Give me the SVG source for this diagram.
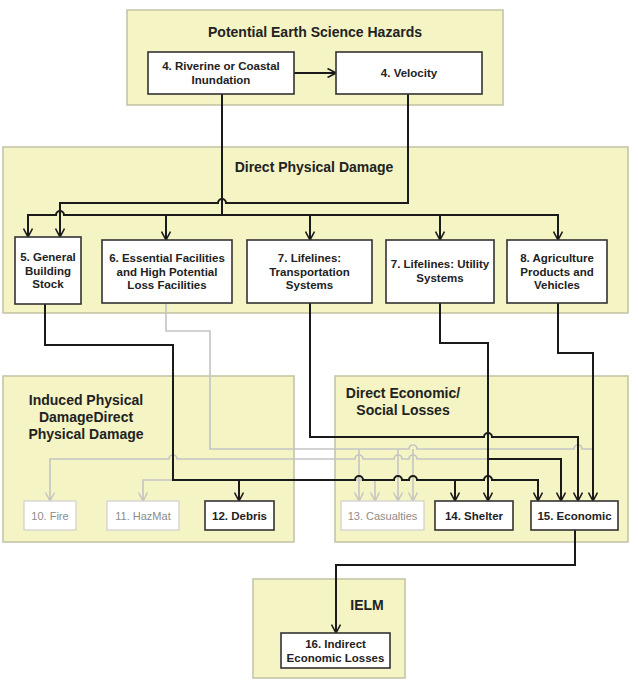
<svg xmlns="http://www.w3.org/2000/svg" width="638" height="693" viewBox="0 0 638 693">
<style>
.panel{fill:#f4f4c4;stroke:#c2c2a2;stroke-width:1.5}
.box{fill:#fff;stroke:#333;stroke-width:1.6}
.gbox{fill:#fff;stroke:#cfcfcf;stroke-width:1.2}
.t{font-family:"Liberation Sans",Arial,sans-serif;font-size:11.5px;font-weight:bold;fill:#222;text-anchor:middle}
.g{font-family:"Liberation Sans",Arial,sans-serif;font-size:11px;fill:#8c8c8c;text-anchor:middle}
.h{font-family:"Liberation Sans",Arial,sans-serif;font-size:14px;font-weight:bold;fill:#222;text-anchor:middle}
.k{fill:none;stroke:#1a1a1a;stroke-width:2}
.gl{fill:none;stroke:#c4c4c4;stroke-width:1.6}
</style>
<defs>
<marker id="ak" viewBox="0 0 10 10" refX="9.5" refY="5" markerWidth="10" markerHeight="10" markerUnits="userSpaceOnUse" orient="auto"><path d="M1,0.5 L9.5,5 L1,9.5" fill="none" stroke="#1a1a1a" stroke-width="1.6"/></marker>
<marker id="ag" viewBox="0 0 10 10" refX="9.5" refY="5" markerWidth="10" markerHeight="10" markerUnits="userSpaceOnUse" orient="auto"><path d="M1,0.5 L9.5,5 L1,9.5" fill="none" stroke="#c4c4c4" stroke-width="1.4"/></marker>
</defs>
<rect width="638" height="693" fill="#fff"/>
<g id="panels">
<g id="panel-hazards"><rect class="panel" x="127" y="10" width="376" height="95"/><text class="h" x="315" y="37">Potential Earth Science Hazards</text></g>
<g id="panel-direct"><rect class="panel" x="3" y="147" width="625" height="166"/><text class="h" x="314" y="172">Direct Physical Damage</text></g>
<g id="panel-induced"><rect class="panel" x="3" y="376" width="291" height="166"/><text class="h" x="86" y="405">Induced Physical</text><text class="h" x="86" y="422">DamageDirect</text><text class="h" x="86" y="439">Physical Damage</text></g>
<g id="panel-econ"><rect class="panel" x="335" y="376" width="293" height="166"/><text class="h" x="403" y="398">Direct Economic/</text><text class="h" x="403" y="415">Social Losses</text></g>
<g id="panel-ielm"><rect class="panel" x="253" y="579" width="152" height="99"/><text class="h" x="367" y="610">IELM</text></g>
</g>
<g id="connectors">
<path class="gl" d="M166,303 V331 H210 V449 H409 a4,4 0 0 1 8,0 H574 a4,4 0 0 1 8,0 H593"/>
<path class="gl" marker-end="url(#ag)" d="M359,449 V501"/>
<path class="gl" marker-end="url(#ag)" d="M398,449 V501"/>
<path class="gl" marker-end="url(#ag)" d="M413,449 V501"/>
<path class="gl" marker-end="url(#ag)" d="M488,459 H417 a4,4 0 0 0 -8,0 H402 a4,4 0 0 0 -8,0 H363 a4,4 0 0 0 -8,0 H177 a4,4 0 0 0 -8,0 H50 V501"/>
<path class="gl" marker-end="url(#ag)" d="M375,480 H143 V501"/>
<path class="gl" marker-end="url(#ag)" d="M375,480 V501"/>
<path class="k" marker-end="url(#ak)" d="M294,73 H336"/>
<path class="k" d="M222,94 V215"/>
<path class="k" marker-end="url(#ak)" d="M408,94 V203 H226 a4,4 0 0 0 -8,0 H60 V237"/>
<path class="k" marker-end="url(#ak)" d="M222,215 H64 a4,4 0 0 0 -8,0 H28 V237"/>
<path class="k" marker-end="url(#ak)" d="M166,215 V240"/>
<path class="k" marker-end="url(#ak)" d="M222,215 H310 V240"/>
<path class="k" marker-end="url(#ak)" d="M310,215 H440 V240"/>
<path class="k" marker-end="url(#ak)" d="M440,215 H558 V240"/>
<path class="k" marker-end="url(#ak)" d="M45,304 V345 H173 V480 H239 V501"/>
<path class="k" marker-end="url(#ak)" d="M239,480 H355 a4,4 0 0 1 8,0 H394 a4,4 0 0 1 8,0 H409 a4,4 0 0 1 8,0 H455 V501"/>
<path class="k" marker-end="url(#ak)" d="M455,480 H484 a4,4 0 0 1 8,0 H538 V501"/>
<path class="k" marker-end="url(#ak)" d="M310,303 V437 H484 a4,4 0 0 1 8,0 H578 V501"/>
<path class="k" marker-end="url(#ak)" d="M440,303 V343 H488 V501"/>
<path class="k" marker-end="url(#ak)" d="M488,459 H561 V501"/>
<path class="k" marker-end="url(#ak)" d="M558,303 V353 H593 V501"/>
<path class="k" marker-end="url(#ak)" d="M575,530 V565 H336 V633"/>
</g>
<g id="n4a"><rect class="box" x="148" y="52" width="146" height="42"/><text class="t" x="221" y="70">4. Riverine or Coastal</text><text class="t" x="221" y="84">Inundation</text></g>
<g id="n4b"><rect class="box" x="336" y="52" width="146" height="42"/><text class="t" x="409" y="77">4. Velocity</text></g>
<g id="n5"><rect class="box" x="15" y="237" width="66" height="67"/><text class="t" x="48" y="261">5. General</text><text class="t" x="48" y="274.5">Building</text><text class="t" x="48" y="288">Stock</text></g>
<g id="n6"><rect class="box" x="102" y="240" width="130" height="63"/><text class="t" x="167" y="262">6. Essential Facilities</text><text class="t" x="167" y="275.5">and High Potential</text><text class="t" x="167" y="289">Loss Facilities</text></g>
<g id="n7a"><rect class="box" x="247" y="240" width="125" height="63"/><text class="t" x="309.5" y="262">7. Lifelines:</text><text class="t" x="309.5" y="275.5">Transportation</text><text class="t" x="309.5" y="289">Systems</text></g>
<g id="n7b"><rect class="box" x="386" y="240" width="108" height="63"/><text class="t" x="440" y="268">7. Lifelines: Utility</text><text class="t" x="440" y="282">Systems</text></g>
<g id="n8"><rect class="box" x="507" y="240" width="100" height="63"/><text class="t" x="557" y="262">8. Agriculture</text><text class="t" x="557" y="275.5">Products and</text><text class="t" x="557" y="289">Vehicles</text></g>
<g id="n10"><rect class="gbox" x="24" y="501" width="52" height="29"/><text class="g" x="50" y="519.5">10. Fire</text></g>
<g id="n11"><rect class="gbox" x="107" y="501" width="72" height="29"/><text class="g" x="143" y="519.5">11. HazMat</text></g>
<g id="n12"><rect class="box" x="205" y="501" width="69" height="29"/><text class="t" x="239.5" y="519.5">12. Debris</text></g>
<g id="n13"><rect class="gbox" x="341" y="501" width="83" height="29"/><text class="g" x="382.5" y="519.5">13. Casualties</text></g>
<g id="n14"><rect class="box" x="435" y="501" width="78" height="29"/><text class="t" x="474" y="519.5">14. Shelter</text></g>
<g id="n15"><rect class="box" x="531" y="501" width="87" height="29"/><text class="t" x="574.5" y="519.5">15. Economic</text></g>
<g id="n16"><rect class="box" x="281" y="633" width="109" height="35"/><text class="t" x="335.5" y="647.5">16. Indirect</text><text class="t" x="335.5" y="661.5">Economic Losses</text></g>
</svg>
